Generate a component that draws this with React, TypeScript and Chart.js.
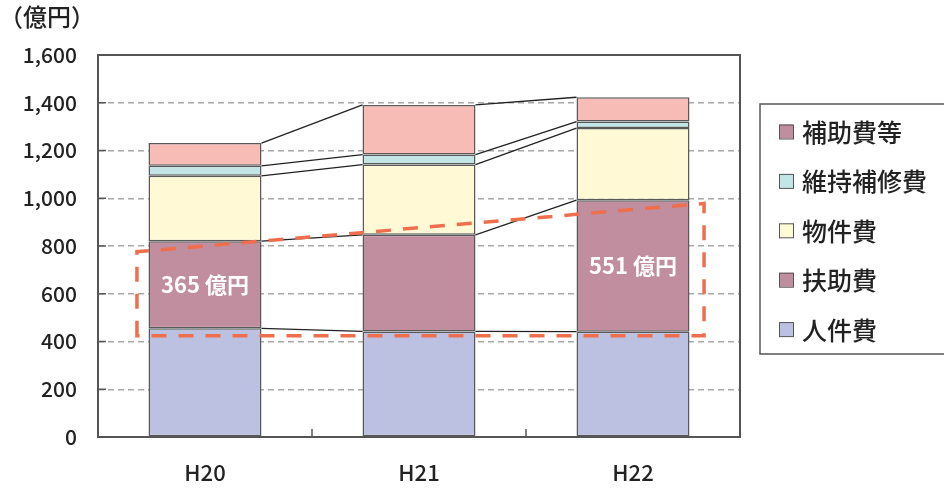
import React, { useEffect, useRef } from 'react';
import { Chart, registerables } from 'chart.js';

Chart.register(...registerables);

// ---- data ----
const categories = ['H20', 'H21', 'H22'];
const seriesNames = ['人件費', '扶助費', '物件費', '維持補修費', '補助費等'];
const jinkenhi = [455, 442, 441];
const fujohi = [365, 405, 551];
const bukkenhi = [274, 294, 302];
const ijiHoshuhi = [42, 42, 27];
const hojohiTo = [95, 208, 102];
const yTickValues = [0, 200, 400, 600, 800, 1000, 1200, 1400, 1600];
const unitLabel = '（億円）';
const calloutIndices = [0, 2];
const calloutUnit = '億円';
// highlight frame (data coordinates: category index, value)
const highlightX = [-0.318, 2.332];
const highlightLeftY = [424, 776];
const highlightRightY = [424, 978];

// ---- styles ----
const barColors = ['#BDC1E1', '#C08E9E', '#FFFAD5', '#C3E5E6', '#F8BCB7'];
const legendColors = ['#BDC1E1', '#C08E9E', '#FFFAD5', '#C3E5E6', '#C08E9E'];
const FONT = '"Noto Sans CJK JP", "Noto Sans", sans-serif';
const TEXT = '#222222';

const seriesValues = [jinkenhi, fujohi, bukkenhi, ijiHoshuhi, hojohiTo];

const decorPlugin = {
  id: 'decor',
  afterDatasetsDraw(chart: any) {
    const ctx = chart.ctx;
    const area = chart.chartArea;
    const xs = chart.scales.x;
    const ys = chart.scales.y;
    ctx.save();
    // connector lines between bars
    ctx.strokeStyle = '#222';
    ctx.lineWidth = 1.3;
    ctx.setLineDash([]);
    for (let d = 0; d < seriesValues.length; d++) {
      const meta = chart.getDatasetMeta(d);
      for (let i = 0; i < meta.data.length - 1; i++) {
        const a = meta.data[i].getProps(['x', 'y', 'width'], true);
        const b = meta.data[i + 1].getProps(['x', 'y', 'width'], true);
        ctx.beginPath();
        ctx.moveTo(a.x + a.width / 2, a.y);
        ctx.lineTo(b.x - b.width / 2, b.y);
        ctx.stroke();
      }
    }
    // plot frame
    ctx.strokeStyle = '#555';
    ctx.lineWidth = 2;
    ctx.strokeRect(area.left, area.top, area.right - area.left, area.bottom - area.top);
    // inward ticks y
    ctx.lineWidth = 1.5;
    yTickValues.forEach((v) => {
      const y = ys.getPixelForValue(v);
      ctx.beginPath();
      ctx.moveTo(area.left, y);
      ctx.lineTo(area.left + 8, y);
      ctx.stroke();
    });
    // inward ticks x at category boundaries
    for (let i = 0; i < categories.length - 1; i++) {
      const x = xs.getPixelForValue(i + 0.5);
      ctx.beginPath();
      ctx.moveTo(x, area.bottom);
      ctx.lineTo(x, area.bottom - 8);
      ctx.stroke();
    }
    // highlight dashed frame
    const xl = xs.getPixelForValue(highlightX[0]);
    const xr = xs.getPixelForValue(highlightX[1]);
    ctx.strokeStyle = '#EE6E4E';
    ctx.lineWidth = 3.5;
    ctx.setLineDash([15, 12]);
    ctx.beginPath();
    ctx.moveTo(xl, ys.getPixelForValue(highlightLeftY[0]));
    ctx.lineTo(xl, ys.getPixelForValue(highlightLeftY[1]));
    ctx.lineTo(xr, ys.getPixelForValue(highlightRightY[1]));
    ctx.lineTo(xr, ys.getPixelForValue(highlightRightY[0]));
    ctx.closePath();
    ctx.stroke();
    ctx.setLineDash([]);
    // callout labels
    const meta = chart.getDatasetMeta(1);
    ctx.fillStyle = '#FFFFFF';
    ctx.font = `bold 22px ${FONT}`;
    ctx.textAlign = 'center';
    ctx.textBaseline = 'middle';
    calloutIndices.forEach((i) => {
      const el = meta.data[i].getProps(['x', 'y', 'base'], true);
      ctx.fillText(`${fujohi[i]} ${calloutUnit}`, el.x, (el.y + el.base) / 2);
    });
    ctx.restore();
  },
  afterDraw(chart: any) {
    const ctx = chart.ctx;
    ctx.save();
    // unit label
    ctx.fillStyle = TEXT;
    ctx.font = `500 24px ${FONT}`;
    ctx.textAlign = 'left';
    ctx.textBaseline = 'middle';
    ctx.fillText(unitLabel, -1, 17);
    // legend box
    const bx = 760, by = 104, bw = 200, bh = 250;
    ctx.strokeStyle = '#555';
    ctx.lineWidth = 1.5;
    ctx.strokeRect(bx, by, bw, bh);
    ctx.font = `500 25px ${FONT}`;
    for (let k = 0; k < seriesNames.length; k++) {
      const idx = seriesNames.length - 1 - k;
      const cy = by + 27.5 + k * 49.4;
      ctx.fillStyle = legendColors[idx];
      ctx.fillRect(779, cy - 7, 14, 14);
      ctx.strokeStyle = '#555';
      ctx.lineWidth = 1;
      ctx.strokeRect(779.5, cy - 6.5, 14, 14);
      ctx.fillStyle = TEXT;
      ctx.fillText(seriesNames[idx], 802, cy + 1);
    }
    ctx.restore();
  },
};

export default function App() {
  const ref = useRef<HTMLCanvasElement | null>(null);
  useEffect(() => {
    document.body.style.margin = '0';
    if (!ref.current) return;
    const chart = new Chart(ref.current, {
      type: 'bar',
      data: {
        labels: categories,
        datasets: seriesNames.map((name, i) => ({
          label: name,
          data: seriesValues[i],
          backgroundColor: barColors[i],
          borderColor: '#5A5A5A',
          borderWidth: 1.5,
          borderSkipped: false,
          barPercentage: 0.528,
          categoryPercentage: 1.0,
        })),
      },
      options: {
        animation: false,
        responsive: false,
        devicePixelRatio: 1,
        layout: { padding: { top: 55, right: 204, left: 0, bottom: 0 } },
        plugins: {
          legend: { display: false },
          tooltip: { enabled: false },
          title: { display: false },
        },
        scales: {
          x: {
            stacked: true,
            grid: { display: false, drawTicks: false },
            border: { display: false },
            ticks: {
              color: TEXT,
              font: { family: FONT, size: 22, weight: '500' },
              padding: 22,
            },
            afterFit: (s: any) => {
              s.height = 53;
            },
          },
          y: {
            stacked: true,
            min: 0,
            max: 1600,
            afterBuildTicks: (s: any) => {
              s.ticks = yTickValues.map((v) => ({ value: v }));
            },
            grid: { color: '#A8A8A8', lineWidth: 1.5, drawTicks: false },
            border: { display: false, dash: [6, 4] },
            ticks: {
              color: TEXT,
              font: { family: FONT, size: 21, weight: '500' },
              padding: 21,
              callback: (v: any) => Number(v).toLocaleString('en-US'),
            },
            afterFit: (s: any) => {
              s.width = 98;
            },
          },
        },
      },
      plugins: [decorPlugin],
    });
    return () => chart.destroy();
  }, []);
  return (
    <div style={{ width: 944, height: 490 }}>
      <canvas ref={ref} width={944} height={490} style={{ display: 'block', width: 944, height: 490 }} />
    </div>
  );
}
